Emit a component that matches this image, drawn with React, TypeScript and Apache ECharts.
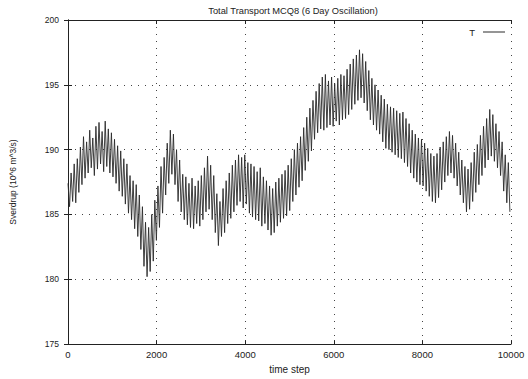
import React, { useEffect, useRef } from "react";
import * as echarts from "echarts";

// Time steps between consecutive samples of the transport record
const SAMPLE_STEP = 35;

// Total transport (Sv), one sample every SAMPLE_STEP time steps starting at 0
const transport: number[] = [
  187.4, 185.6, 188.2, 186.0, 188.9, 185.9, 189.3, 186.7, 190.2, 187.3,
  191.0, 187.8, 190.6, 188.2, 191.5, 188.6, 190.9, 188.0, 191.8, 188.5,
  192.1, 188.9, 191.4, 188.3, 192.2, 188.7, 191.6, 188.2, 191.3, 187.9,
  190.8, 187.4, 190.3, 186.8, 189.9, 186.4, 189.3, 185.8, 188.9, 185.1,
  188.0, 184.6, 187.6, 183.9, 187.3, 183.3, 186.5, 182.3, 185.6, 181.0,
  184.4, 180.2, 184.0, 180.6, 185.0, 181.4, 186.1, 183.0, 187.2, 184.0,
  188.7, 185.1, 189.4, 186.5, 190.5, 187.4, 191.5, 188.1, 191.2, 187.3,
  190.0, 186.0, 189.2, 185.2, 188.1, 184.6, 187.9, 184.2, 187.4, 184.0,
  187.8, 183.9, 187.2, 184.3, 187.6, 184.1, 188.0, 184.6, 188.6, 185.2,
  189.5, 185.4, 188.8, 184.6, 188.0, 183.6, 186.6, 182.6, 186.0, 183.3,
  187.0, 183.6, 187.6, 184.3, 188.2, 184.7, 188.8, 185.2, 189.2, 185.7,
  189.6, 186.0, 189.4, 185.5, 189.6, 185.8, 189.0, 185.1, 188.9, 184.8,
  188.7, 184.6, 188.3, 184.5, 188.6, 184.1, 187.9, 184.3, 187.6, 183.8,
  187.2, 183.4, 187.0, 183.6, 187.5, 184.1, 187.8, 184.4, 188.1, 184.7,
  188.4, 184.9, 188.8, 185.3, 189.3, 186.0, 190.0, 186.5, 190.5, 187.1,
  191.0, 187.6, 191.7, 188.4, 192.5, 189.1, 193.2, 189.9, 193.8, 190.8,
  194.5, 191.3, 195.1, 191.6, 195.6, 191.5, 195.8, 191.7, 195.3, 191.9,
  195.6, 191.8, 195.1, 192.2, 195.5, 191.9, 195.8, 192.3, 195.7, 192.4,
  196.2, 192.7, 196.6, 193.1, 197.0, 193.5, 197.3, 193.8, 197.7, 194.0,
  197.4, 193.6, 196.8, 193.0, 196.1, 192.3, 195.5, 191.9, 195.0, 191.5,
  194.6, 191.2, 194.2, 190.6, 193.9, 190.1, 193.5, 190.0, 193.3, 189.8,
  193.2, 189.6, 193.0, 189.4, 192.8, 189.3, 192.9, 189.0, 192.4, 188.7,
  192.0, 188.2, 191.5, 187.8, 191.2, 187.5, 190.9, 187.3, 190.8, 187.2,
  190.5, 186.8, 190.1, 186.4, 189.7, 186.0, 189.5, 185.9, 189.7, 186.3,
  190.2, 186.9, 190.6, 187.5, 191.0, 188.0, 191.4, 188.2, 191.1, 187.8,
  190.5, 187.2, 189.8, 186.5, 189.2, 185.9, 188.7, 185.2, 188.5, 185.4,
  189.0, 186.0, 189.8, 186.7, 190.4, 187.3, 191.1, 188.0, 191.8, 188.6,
  192.4, 189.2, 193.1, 189.5, 192.7, 189.1, 192.0, 188.6, 191.4, 188.0,
  190.6, 186.8, 189.6, 185.9, 189.0, 185.2,
];

const X_TICKS = [0, 2000, 4000, 6000, 8000, 10000];
const Y_TICKS = [175, 180, 185, 190, 195, 200];

const FONT = "Liberation Sans";
const INK = "#222";

export default function App() {
  const ref = useRef<HTMLDivElement>(null);

  useEffect(() => {
    if (!ref.current) return;
    const chart = echarts.init(ref.current, null, { renderer: "svg" });

    const seriesData = transport.map((v, i) => [i * SAMPLE_STEP, v]);

    const xMin = X_TICKS[0];
    const xMax = X_TICKS[X_TICKS.length - 1];
    const yMin = Y_TICKS[0];
    const yMax = Y_TICKS[Y_TICKS.length - 1];
    const xStep = X_TICKS[1] - X_TICKS[0];
    const yStep = Y_TICKS[1] - Y_TICKS[0];

    const gridLine = {
      show: true,
      lineStyle: { color: "#444", width: 1, type: [1, 6] as number[] },
    };
    const frame = { show: true, lineStyle: { color: INK, width: 1 } };
    const ticks = { show: true, inside: true, length: 4, lineStyle: { color: INK } };

    chart.setOption({
      animation: false,
      backgroundColor: "#fff",
      title: {
        text: "Total Transport MCQ8 (6 Day Oscillation)",
        left: 288,
        textAlign: "center",
        top: 1,
        textStyle: { fontFamily: FONT, fontSize: 9.3, fontWeight: "normal", color: INK },
      },
      legend: {
        data: [{ name: "T", icon: "rect" }],
        right: 23,
        top: 27,
        padding: 0,
        align: "right",
        itemWidth: 22,
        itemHeight: 1,
        itemGap: 6,
        textStyle: { fontFamily: FONT, fontSize: 9.5, color: INK, padding: [0, 3, 0, 0] },
      },
      grid: { left: 64, top: 20, width: 447, height: 327, containLabel: false },
      xAxis: [
        {
          type: "value",
          min: xMin,
          max: xMax,
          interval: xStep,
          name: "time step",
          nameLocation: "middle",
          nameGap: 15,
          nameTextStyle: { fontFamily: FONT, fontSize: 10, color: INK },
          axisLine: frame,
          axisTick: ticks,
          axisLabel: {
            color: INK,
            fontFamily: FONT,
            fontSize: 9.5,
            margin: 5,
            formatter: (v: number) => String(v),
          },
          splitLine: gridLine,
        },
        {
          type: "value",
          position: "top",
          min: xMin,
          max: xMax,
          interval: xStep,
          axisLine: frame,
          axisTick: ticks,
          axisLabel: { show: false },
          splitLine: { show: false },
        },
      ],
      yAxis: [
        {
          type: "value",
          min: yMin,
          max: yMax,
          interval: yStep,
          name: "Sverdrup (10^6 m^3/s)",
          nameLocation: "middle",
          nameGap: 51,
          nameTextStyle: { fontFamily: FONT, fontSize: 8.5, color: INK },
          axisLine: frame,
          axisTick: ticks,
          axisLabel: { color: INK, fontFamily: FONT, fontSize: 8.5, margin: 9 },
          splitLine: gridLine,
        },
        {
          type: "value",
          position: "right",
          min: yMin,
          max: yMax,
          interval: yStep,
          axisLine: frame,
          axisTick: ticks,
          axisLabel: { show: false },
          splitLine: { show: false },
        },
      ],
      series: [
        {
          name: "T",
          type: "line",
          data: seriesData,
          symbol: "none",
          lineStyle: { color: "#2a2a2a", width: 0.9 },
          itemStyle: { color: "#2a2a2a" },
        },
      ],
    });

    return () => chart.dispose();
  }, []);

  return (
    <div
      ref={ref}
      style={{ position: "absolute", left: 0, top: 0, width: 528, height: 379 }}
    />
  );
}
